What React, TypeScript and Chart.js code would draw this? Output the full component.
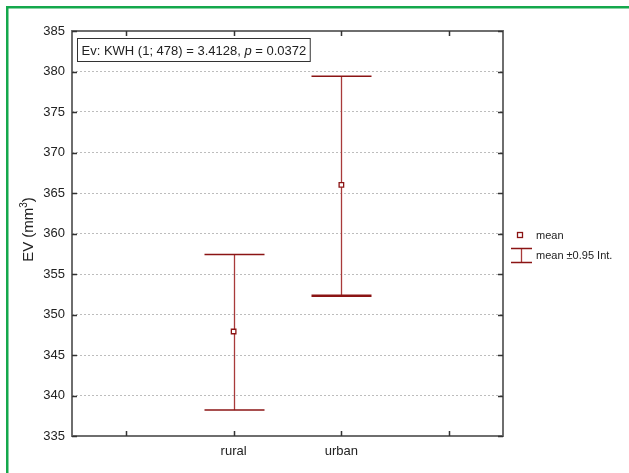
import React, { useEffect, useRef } from 'react';
import { Chart, registerables } from 'chart.js';

Chart.register(...registerables);

const categories = ['', 'rural', 'urban', ''];
const means = [null, 347.9, 366.0, null];
const ciLow = [null, 338.2, 352.3, null];
const ciHigh = [null, 357.4, 379.4, null];
const yMin = 335;
const yMax = 385;
const yStep = 5;
const annotationParts = [
  { text: 'Ev: KWH (1; 478) = 3.4128, ', italic: false },
  { text: 'p', italic: true },
  { text: ' = 0.0372', italic: false },
];
const legendLabels = ['mean', 'mean \u00B10.95 Int.'];
const yTitleMain = 'EV (mm';
const yTitleSup = '3';
const yTitleEnd = ')';

const FONT = "Arial, 'Liberation Sans', sans-serif";
const DARK_RED = '#8b1414';
const BAR_RED = '#a83a3a';
const TEXT = '#222222';
const FRAME = '#6e6e6e';
const GREEN = '#14a84c';

const decorPlugin = {
  id: 'decor',
  beforeDraw(chart: any) {
    const ctx = chart.ctx;
    ctx.save();
    ctx.fillStyle = '#ffffff';
    ctx.fillRect(0, 0, chart.width, chart.height);
    ctx.fillStyle = GREEN;
    ctx.fillRect(6, 6, chart.width - 6, 2.5);
    ctx.fillRect(6, 6, 2.5, chart.height - 6);
    ctx.restore();
  },
  beforeDatasetsDraw(chart: any) {
    const ctx = chart.ctx;
    const x = chart.scales.x;
    const y = chart.scales.y;
    ctx.save();
    for (let i = 0; i < categories.length; i++) {
      const lo = ciLow[i];
      const hi = ciHigh[i];
      if (lo == null || hi == null) continue;
      const px = Math.round(x.getPixelForValue(i)) + 0.5;
      const pLo = y.getPixelForValue(lo);
      const pHi = y.getPixelForValue(hi);
      ctx.strokeStyle = BAR_RED;
      ctx.lineWidth = 1.3;
      ctx.beginPath();
      ctx.moveTo(px, pLo);
      ctx.lineTo(px, pHi);
      ctx.stroke();
      const half = 30;
      ctx.strokeStyle = DARK_RED;
      ctx.lineWidth = 1.5;
      ctx.beginPath();
      ctx.moveTo(px - half, pHi);
      ctx.lineTo(px + half, pHi);
      ctx.stroke();
      ctx.lineWidth = i === 2 ? 2.5 : 1.5;
      ctx.beginPath();
      ctx.moveTo(px - half, pLo);
      ctx.lineTo(px + half, pLo);
      ctx.stroke();
    }
    ctx.restore();
  },
  afterDraw(chart: any) {
    const ctx = chart.ctx;
    const a = chart.chartArea;
    const x = chart.scales.x;
    const y = chart.scales.y;
    ctx.save();
    // frame
    ctx.strokeStyle = FRAME;
    ctx.lineWidth = 2;
    ctx.strokeRect(a.left, a.top, a.right - a.left, a.bottom - a.top);
    // inward ticks
    ctx.strokeStyle = '#333333';
    ctx.lineWidth = 1.5;
    ctx.beginPath();
    for (const t of y.ticks) {
      const py = Math.round(y.getPixelForValue(t.value)) + 0.5;
      ctx.moveTo(a.left, py);
      ctx.lineTo(a.left + 5, py);
      ctx.moveTo(a.right - 5, py);
      ctx.lineTo(a.right, py);
    }
    for (let i = 0; i < categories.length; i++) {
      const px = Math.round(x.getPixelForValue(i)) + 0.5;
      ctx.moveTo(px, a.bottom);
      ctx.lineTo(px, a.bottom - 5);
      ctx.moveTo(px, a.top);
      ctx.lineTo(px, a.top + 5);
    }
    ctx.stroke();

    // annotation box
    const fontA = `13px ${FONT}`;
    const fontAI = `italic 13px ${FONT}`;
    let tw = 0;
    for (const p of annotationParts) {
      ctx.font = p.italic ? fontAI : fontA;
      tw += ctx.measureText(p.text).width;
    }
    const bx = a.left + 5.5;
    const by = a.top + 7.5;
    const bw = tw + 8;
    const bh = 23;
    ctx.fillStyle = '#ffffff';
    ctx.fillRect(bx, by, bw, bh);
    ctx.strokeStyle = '#333333';
    ctx.lineWidth = 1;
    ctx.strokeRect(bx, by, bw, bh);
    ctx.fillStyle = TEXT;
    ctx.textBaseline = 'middle';
    ctx.textAlign = 'left';
    let tx = bx + 4;
    for (const p of annotationParts) {
      ctx.font = p.italic ? fontAI : fontA;
      ctx.fillText(p.text, tx, by + bh / 2 + 1);
      tx += ctx.measureText(p.text).width;
    }

    // legend
    const fontL = `11px ${FONT}`;
    const lx = a.right + 17;
    const ly = a.top + 204;
    ctx.strokeStyle = DARK_RED;
    ctx.lineWidth = 1.3;
    ctx.fillStyle = '#ffffff';
    ctx.fillRect(lx - 2.5, ly - 2.5, 5, 5);
    ctx.strokeRect(lx - 2.5, ly - 2.5, 5, 5);
    ctx.fillStyle = TEXT;
    ctx.font = fontL;
    ctx.fillText(legendLabels[0], lx + 16, ly + 1);
    const ey1 = ly + 13.5;
    const ey2 = ly + 27.5;
    ctx.strokeStyle = BAR_RED;
    ctx.lineWidth = 1.3;
    ctx.beginPath();
    ctx.moveTo(lx + 1.5, ey1);
    ctx.lineTo(lx + 1.5, ey2);
    ctx.stroke();
    ctx.strokeStyle = DARK_RED;
    ctx.lineWidth = 1.5;
    ctx.beginPath();
    ctx.moveTo(lx - 9, ey1);
    ctx.lineTo(lx + 12, ey1);
    ctx.moveTo(lx - 9, ey2);
    ctx.lineTo(lx + 12, ey2);
    ctx.stroke();
    ctx.fillStyle = TEXT;
    ctx.fillText(legendLabels[1], lx + 16, ly + 21);

    // y axis title
    const fontT = `15px ${FONT}`;
    const fontS = `10px ${FONT}`;
    ctx.save();
    ctx.translate(29, (a.top + a.bottom) / 2 - 4);
    ctx.rotate(-Math.PI / 2);
    ctx.font = fontT;
    const w1 = ctx.measureText(yTitleMain).width;
    ctx.font = fontS;
    const w2 = ctx.measureText(yTitleSup).width;
    ctx.font = fontT;
    const w3 = ctx.measureText(yTitleEnd).width;
    let sx = -(w1 + w2 + w3) / 2;
    ctx.textBaseline = 'middle';
    ctx.fillStyle = TEXT;
    ctx.fillText(yTitleMain, sx, 0);
    sx += w1;
    ctx.font = fontS;
    ctx.fillText(yTitleSup, sx, -5);
    sx += w2;
    ctx.font = fontT;
    ctx.fillText(yTitleEnd, sx, 0);
    ctx.restore();

    ctx.restore();
  },
};

export default function App() {
  const ref = useRef<HTMLCanvasElement>(null);
  useEffect(() => {
    document.body.style.margin = '0';
    const canvas = ref.current;
    if (!canvas) return;
    const chart = new Chart(canvas, {
      type: 'line',
      data: {
        labels: categories,
        datasets: [
          {
            label: 'mean',
            data: means,
            showLine: false,
            pointStyle: 'rect',
            pointRadius: 3.2,
            pointHoverRadius: 3.2,
            pointBorderWidth: 1.3,
            pointBorderColor: DARK_RED,
            pointBackgroundColor: '#ffffff',
            borderColor: DARK_RED,
            backgroundColor: '#ffffff',
          },
        ],
      },
      options: {
        animation: false,
        responsive: false,
        devicePixelRatio: 1,
        events: [],
        layout: { padding: { left: 0, top: 31, right: 126, bottom: 0 } },
        plugins: {
          legend: { display: false },
          tooltip: { enabled: false },
          title: { display: false },
        },
        scales: {
          x: {
            type: 'category',
            offset: true,
            grid: { display: false, drawTicks: false },
            border: { display: false },
            ticks: {
              padding: 8,
              color: TEXT,
              font: { family: FONT, size: 13 },
              autoSkip: false,
              maxRotation: 0,
            },
            afterFit(scale: any) {
              scale.height = 37;
            },
          },
          y: {
            min: yMin,
            max: yMax,
            grid: { color: '#bdbdbd', lineWidth: 1, drawTicks: false },
            border: { display: false, dash: [2, 2] },
            ticks: {
              stepSize: yStep,
              padding: 7,
              color: TEXT,
              font: { family: FONT, size: 13 },
            },
            afterFit(scale: any) {
              scale.width = 72;
            },
          },
        },
      },
      plugins: [decorPlugin],
    } as any);
    return () => chart.destroy();
  }, []);
  return (
    <div style={{ width: 629, height: 473 }}>
      <canvas ref={ref} width={629} height={473} style={{ display: 'block' }} />
    </div>
  );
}
